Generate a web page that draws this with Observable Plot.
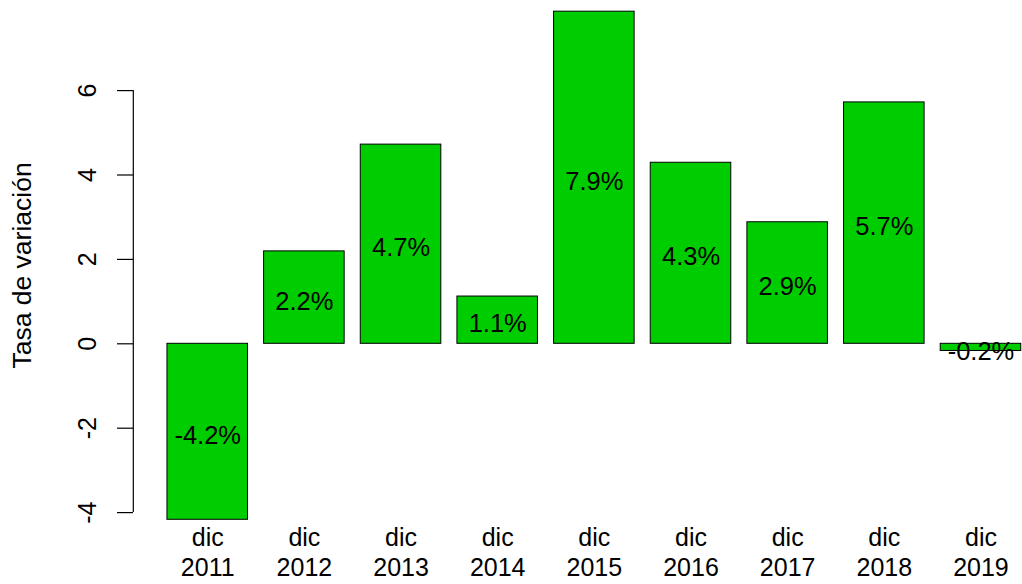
<!DOCTYPE html>
<html><head><meta charset="utf-8">
<script src="https://cdn.jsdelivr.net/npm/d3@7"></script>
<script src="https://cdn.jsdelivr.net/npm/@observablehq/plot@0.6"></script>
<style>html,body{margin:0;padding:0;background:#fff} svg{display:block}</style>
</head><body><div id="chart"></div>
<script>
// Data
const years = ["2011", "2012", "2013", "2014", "2015", "2016", "2017", "2018", "2019"];
const month = "dic";
const values = [-4.17, 2.19, 4.72, 1.12, 7.87, 4.29, 2.88, 5.72, -0.17];
const yTicks = [-4, -2, 0, 2, 4, 6];
const yLabel = "Tasa de variación";

// R barplot-like layout (space = 0.2, width = 1)
const space = 0.2, barW = 1;
const data = years.map((year, i) => {
  const x1 = space + i * (space + barW);
  return {year, value: values[i], x1, x2: x1 + barW, xc: x1 + barW / 2,
          label: values[i].toFixed(1) + "%", tick: month + "\n" + year};
});
const xMin = data[0].x1, xMax = data[data.length - 1].x2;
const xPad = (xMax - xMin) * 0.04;
const xDomain = [xMin - xPad, xMax + xPad];

const font = "'Liberation Sans', Arial, sans-serif";
const chart = Plot.plot({
  width: 1022, height: 584,
  marginLeft: 133, marginRight: 0, marginTop: 10, marginBottom: 64,
  style: {fontFamily: font, fontSize: "25px", color: "#000", background: "#fff", overflow: "visible"},
  x: {domain: xDomain, range: [132.8, 1054.9], axis: null},
  y: {domain: [-4.187, 7.898], axis: null},
  marks: [
    Plot.rect(data, {x1: "x1", x2: "x2", y1: 0, y2: "value", fill: "#00CD00", stroke: "#000", strokeWidth: 1}),
    Plot.text(data, {x: "xc", y: d => d.value / 2, text: "label", fontSize: 25.5, fill: "#000", dy: 4}),
    Plot.ruleX([xDomain[0]], {y1: yTicks[0], y2: yTicks[yTicks.length - 1], stroke: "#000", strokeWidth: 1.2}),
    Plot.axisY(yTicks, {anchor: "left", tickSize: 16, tickFormat: () => "", stroke: "#000", strokeWidth: 1.2, label: null}),
    Plot.text(yTicks, {y: d => d, text: d => String(d), frameAnchor: "left", textAnchor: "middle", dx: -46, rotate: -90, fontSize: 25, fill: "#000"}),
    Plot.text([yLabel], {frameAnchor: "left", textAnchor: "middle", dx: -111, rotate: -90, fontSize: 26.5, fill: "#000"}),
    Plot.text(data, {x: "xc", text: "tick", frameAnchor: "bottom", lineAnchor: "top", dy: 4, lineHeight: 1.2, fontSize: 25, fill: "#000"})
  ]
});
document.getElementById("chart").append(chart);
</script>
</body></html>
